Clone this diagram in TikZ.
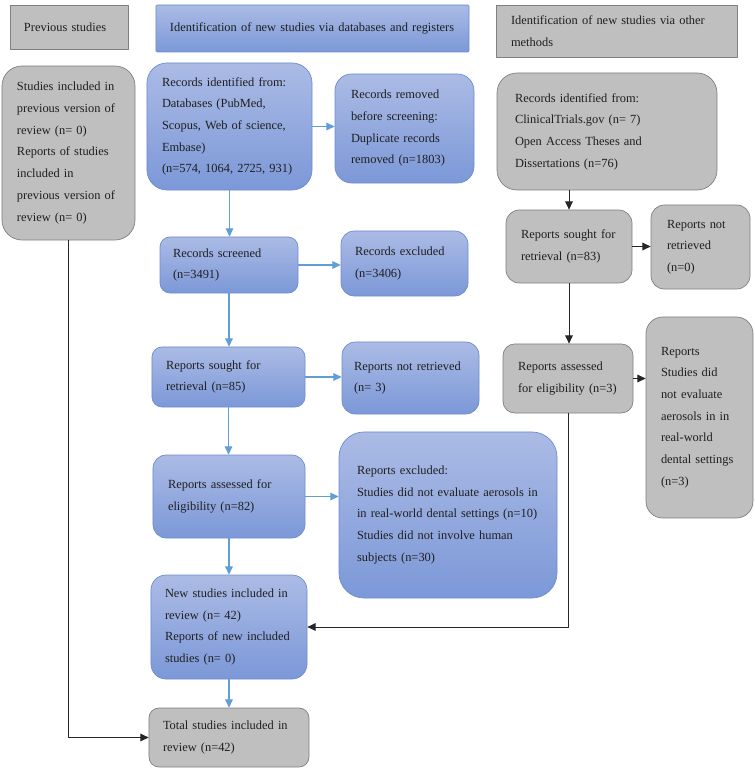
\documentclass[tikz,border=0pt]{standalone}
\usepackage{fontspec}
\setmainfont{Liberation Serif}
\usetikzlibrary{arrows.meta,calc,positioning}
\definecolor{btop}{RGB}{171,187,229}
\definecolor{bbot}{RGB}{124,152,216}
\definecolor{bdr}{RGB}{110,140,206}
\definecolor{gfill}{RGB}{191,191,191}
\definecolor{gdr}{RGB}{128,128,128}
\definecolor{barc}{RGB}{98,158,214}

\begin{document}
\begin{tikzpicture}[x=0.03cm,y=-0.03cm,line join=round,
  txt/.style={align=left,inner sep=0pt,font=\fontsize{10.6}{18.5}\selectfont,text=black!88},
  bbox/.style={txt,draw=bdr,top color=btop,bottom color=bbot,line width=0.6pt},
  gbox/.style={txt,draw=gdr,fill=gfill,line width=0.6pt},
  barr/.style={-{Triangle[length=7pt,width=6.5pt]},draw=barc,line width=0.9pt},
  karr/.style={-{Triangle[length=7pt,width=6.5pt]},draw=black!85,line width=0.8pt}]
\useasboundingbox (0,0) rectangle (754,769);
% headers
\node[gbox,minimum width=3.54cm,minimum height=1.32cm,text width=2.70cm] (prev) at (69,27) {Previous studies};
\node[bbox,minimum width=9.39cm,minimum height=1.41cm,text width=8.55cm,rounded corners=1pt] (dbhead) at (312.5,28.5) {Identification of new studies via databases and registers};
\node[gbox,minimum width=7.23cm,minimum height=1.56cm,text width=6.33cm] (othhead) at (616.5,31) {Identification of new studies via other\\methods};
% previous studies
\node[gbox,rounded corners=0.6cm,minimum width=3.99cm,minimum height=5.22cm,text width=3.09cm] (previnc) at (68.5,153) {Studies included in\\previous version of\\review (n= 0)\\Reports of studies\\included in\\previous version of\\review (n= 0)};
% databases and registers
\node[bbox,rounded corners=0.6cm,minimum width=4.95cm,minimum height=3.81cm,text width=4.05cm] (recid) at (229.5,126.5) {Records identified from:\\Databases (PubMed,\\Scopus, Web of science,\\Embase)\\(n=574, 1064, 2725, 931)};
\node[bbox,rounded corners=0.5cm,minimum width=4.17cm,minimum height=3.27cm,text width=3.21cm] (recrem) at (404.5,128.5) {Records removed\\before screening:\\Duplicate records\\removed (n=1803)};
\node[bbox,rounded corners=0.3cm,minimum width=4.14cm,minimum height=1.68cm,text width=3.36cm] (screened) at (229,265) {Records screened\\(n=3491)};
\node[bbox,rounded corners=0.4cm,minimum width=3.81cm,minimum height=1.95cm,text width=2.97cm] (recexc) at (404.5,263.5) {Records excluded\\(n=3406)};
\node[bbox,rounded corners=0.3cm,minimum width=4.59cm,minimum height=1.8cm,text width=3.75cm] (sought) at (228.5,377) {Reports sought for\\retrieval (n=85)};
\node[bbox,rounded corners=0.4cm,minimum width=4.11cm,minimum height=2.16cm,text width=3.39cm] (notret) at (410.5,378) {Reports not retrieved\\(n= 3)};
\node[bbox,rounded corners=0.4cm,minimum width=4.56cm,minimum height=2.49cm,text width=3.66cm] (assessed) at (229,496.5) {Reports assessed for\\eligibility (n=82)};
\node[bbox,rounded corners=0.75cm,minimum width=6.54cm,minimum height=4.98cm,text width=5.46cm] (repexc) at (448,515) {Reports excluded:\\Studies did not evaluate aerosols in\\in real-world dental settings (n=10)\\Studies did not involve human\\subjects (n=30)};
\node[bbox,rounded corners=0.45cm,minimum width=4.68cm,minimum height=3.12cm,text width=3.84cm] (newinc) at (229,627) {New studies included in\\review (n= 42)\\Reports of new included\\studies (n= 0)};
\node[gbox,rounded corners=0.3cm,minimum width=4.8cm,minimum height=1.77cm,text width=3.96cm] (total) at (229,737.5) {Total studies included in\\review (n=42)};
% other methods
\node[gbox,rounded corners=0.6cm,minimum width=6.6cm,minimum height=3.51cm,text width=5.52cm] (othid) at (607,131.5) {Records identified from:\\ClinicalTrials.gov (n= 7)\\Open Access Theses and\\Dissertations (n=76)};
\node[gbox,rounded corners=0.4cm,minimum width=3.78cm,minimum height=2.19cm,text width=2.88cm] (othsought) at (569,246.5) {Reports sought for\\retrieval (n=83)};
\node[gbox,rounded corners=0.4cm,minimum width=2.97cm,minimum height=2.52cm,text width=2.01cm] (othnotret) at (700.5,247) {Reports not\\retrieved\\(n=0)};
\node[gbox,rounded corners=0.35cm,minimum width=3.9cm,minimum height=2.07cm,text width=3.0cm] (othassessed) at (568,378.5) {Reports assessed\\for eligibility (n=3)};
\node[gbox,rounded corners=0.5cm,minimum width=3.21cm,minimum height=6.03cm,text width=2.31cm] (othexc) at (699.5,417.5) {Reports\\Studies did\\not evaluate\\aerosols in in\\real-world\\dental settings\\(n=3)};
% connectors
\draw[barr] (recid.east) -- (recid.east -| recrem.west);
\draw[barr] (recid.south) -- (recid.south |- screened.north);
\draw[barr] (screened.east) -- (screened.east -| recexc.west);
\draw[barr] (screened.south) -- (screened.south |- sought.north);
\draw[barr] (sought.east) -- (sought.east -| notret.west);
\draw[barr] (sought.south) -- (sought.south |- assessed.north);
\draw[barr] (assessed.east) -- (assessed.east -| repexc.west);
\draw[barr] (assessed.south) -- (newinc.north);
\draw[barr] (newinc.south) -- (total.north);
\draw[karr] (othid.south -| othsought.north) -- (othsought.north);
\draw[karr] (othsought.east) -- (othsought.east -| othnotret.west);
\draw[karr] (othsought.south) -- (othsought.south |- othassessed.north);
\draw[karr] (othassessed.east) -- (othassessed.east -| othexc.west);
\draw[karr] (othassessed.south) |- (newinc.east);
\draw[karr] (previnc.south) |- (total.west);
\end{tikzpicture}
\end{document}
